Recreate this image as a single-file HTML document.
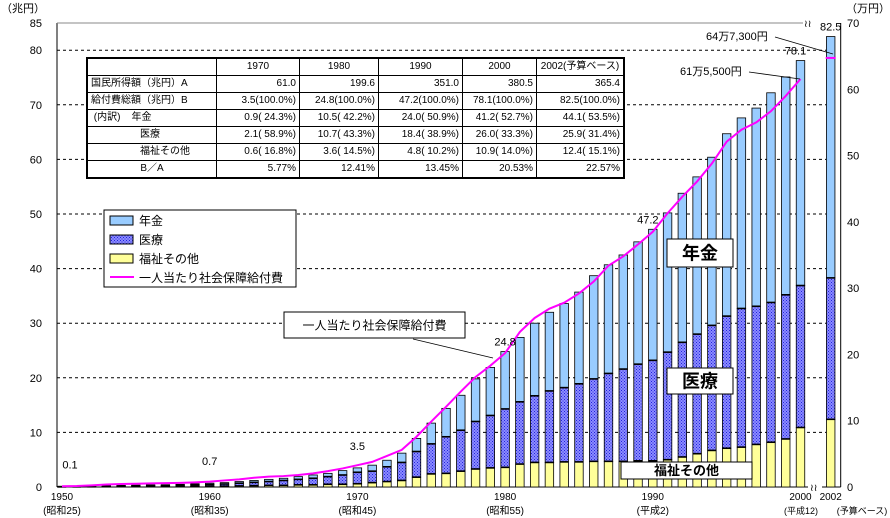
<!DOCTYPE html>
<html><head><meta charset="utf-8">
<style>
body{margin:0;background:#fff;width:890px;height:518px;overflow:hidden;font-family:"Liberation Sans","Noto Sans CJK JP",sans-serif}
svg{position:absolute;left:0;top:0}
#tbl{position:absolute;left:86px;top:57px;border-collapse:collapse;border:2px solid #000;font-family:"Liberation Sans","Noto Sans CJK JP",sans-serif;font-size:10px;background:#fff}
#tbl td{border:1px solid #000;height:16px;padding:0 3px;white-space:nowrap;line-height:16px}
#tbl td.n{text-align:right}
#tbl td.h{text-align:center}
</style></head><body>
<svg id="chart" width="890" height="518"></svg>
<table id="tbl">
<tr><td style="width:122px"></td><td class="h" style="width:76px">1970</td><td class="h" style="width:72px">1980</td><td class="h" style="width:77px">1990</td><td class="h" style="width:67px">2000</td><td class="h" style="width:80px">2002(予算ベース)</td></tr>
<tr><td>国民所得額（兆円）A</td><td class="n">61.0</td><td class="n">199.6</td><td class="n">351.0</td><td class="n">380.5</td><td class="n">365.4</td></tr>
<tr><td>給付費総額（兆円）B</td><td class="n">3.5(100.0%)</td><td class="n">24.8(100.0%)</td><td class="n">47.2(100.0%)</td><td class="n">78.1(100.0%)</td><td class="n">82.5(100.0%)</td></tr>
<tr><td>&nbsp;(内訳)&nbsp;&nbsp;&nbsp;&nbsp;年金</td><td class="n">0.9( 24.3%)</td><td class="n">10.5( 42.2%)</td><td class="n">24.0( 50.9%)</td><td class="n">41.2( 52.7%)</td><td class="n">44.1( 53.5%)</td></tr>
<tr><td style="padding-left:52px">医療</td><td class="n">2.1( 58.9%)</td><td class="n">10.7( 43.3%)</td><td class="n">18.4( 38.9%)</td><td class="n">26.0( 33.3%)</td><td class="n">25.9( 31.4%)</td></tr>
<tr><td style="padding-left:52px">福祉その他</td><td class="n">0.6( 16.8%)</td><td class="n">3.6( 14.5%)</td><td class="n">4.8( 10.2%)</td><td class="n">10.9( 14.0%)</td><td class="n">12.4( 15.1%)</td></tr>
<tr><td class="h">B／A</td><td class="n">5.77%</td><td class="n">12.41%</td><td class="n">13.45%</td><td class="n">20.53%</td><td class="n">22.57%</td></tr>
</table>
<script>
const years=[1950,1951,1952,1953,1954,1955,1956,1957,1958,1959,1960,1961,1962,1963,1964,1965,1966,1967,1968,1969,1970,1971,1972,1973,1974,1975,1976,1977,1978,1979,1980,1981,1982,1983,1984,1985,1986,1987,1988,1989,1990,1991,1992,1993,1994,1995,1996,1997,1998,1999,2000,2002];
const totalVals=[0.1,0.15,0.2,0.25,0.3,0.35,0.4,0.42,0.5,0.6,0.7,0.8,1.0,1.2,1.4,1.6,1.9,2.2,2.5,3.0,3.5,4.0,4.9,6.2,8.9,11.7,14.4,16.8,19.8,21.9,24.8,27.4,30.0,32.0,33.6,35.7,38.7,40.7,42.5,44.9,47.2,50.2,53.8,56.8,60.4,64.7,67.6,69.4,72.2,75.1,78.1,82.5];
const medTopVals=[0.07,0.1,0.13,0.16,0.2,0.23,0.27,0.28,0.33,0.4,0.45,0.55,0.7,0.85,1.0,1.2,1.4,1.6,1.9,2.2,2.7,2.9,3.7,4.5,6.5,7.9,9.2,10.4,12.0,13.1,14.3,15.6,16.7,17.6,18.2,18.9,19.8,20.8,21.6,22.5,23.2,24.7,26.5,28.0,29.6,31.3,32.7,33.1,33.8,35.2,36.9,38.3];
const welfareVals=[0.02,0.03,0.04,0.05,0.06,0.07,0.08,0.08,0.1,0.12,0.14,0.16,0.2,0.24,0.3,0.3,0.4,0.4,0.5,0.5,0.6,0.8,1.0,1.2,1.8,2.4,2.5,2.9,3.3,3.5,3.6,4.2,4.5,4.5,4.6,4.6,4.7,4.7,4.7,4.8,4.8,5.0,5.5,6.1,6.7,7.1,7.3,7.8,8.2,8.8,10.9,12.4];
const perCapitaYears=[1950,1951,1952,1953,1954,1955,1956,1957,1958,1959,1960,1961,1962,1963,1964,1965,1966,1967,1968,1969,1970,1971,1972,1973,1974,1975,1976,1977,1978,1979,1980,1981,1982,1983,1984,1985,1986,1987,1988,1989,1990,1991,1992,1993,1994,1995,1996,1997,1998,1999,2000];
const perCapitaVals=[0.12,0.16,0.25,0.37,0.45,0.49,0.54,0.58,0.62,0.7,0.82,0.99,1.15,1.4,1.56,1.65,1.81,2.06,2.39,2.8,3.29,3.79,4.69,5.6,7.58,9.88,12.1,14.4,16.6,18.3,20.2,23.4,25.5,26.9,27.8,29.2,31.0,33.4,34.8,36.6,38.5,41.3,43.8,46.1,48.8,52.1,53.9,55.0,56.7,59.0,61.55];
const perCapita2002=64.73;
const leftTicks=[0,10,20,30,40,50,60,70,80,85];
const rightTicks=[0,10,20,30,40,50,60,70];
const xTickYears=[1950,1960,1970,1980,1990,2000,2002];
const xTickSubs=["(昭和25)","(昭和35)","(昭和45)","(昭和55)","(平成2)","(平成12)","(予算ベース)"];
const valueLabelYears=[1950,1960,1970,1980,1990,2000,2002];
const valueLabels=["0.1","0.7","3.5","24.8","47.2","78.1","82.5"];

const NS="http://www.w3.org/2000/svg";
const svg=document.getElementById('chart');
const X0=57,XR=840.7,Y0=487,PXU=54.6/10;
function xs(yr){return yr===2002?830.7:62+(yr-1950)*14.77;}
function yl(v){return Y0-v*PXU;}
function yr_(v){return Y0-v*(464/70);}
function el(tag,attrs,parent){const e=document.createElementNS(NS,tag);for(const k in attrs)e.setAttribute(k,attrs[k]);(parent||svg).appendChild(e);return e;}
function txt(x,y,s,attrs){const t=el('text',Object.assign({x:x,y:y,'font-size':11,fill:'#000'},attrs||{}));t.textContent=s;return t;}

const defs=el('defs',{});
const pat=el('pattern',{id:'dots',width:3,height:3,patternUnits:'userSpaceOnUse'},defs);
el('rect',{width:3,height:3,fill:'#8c8cff'},pat);
el('rect',{x:0,y:0,width:1,height:1,fill:'#2222dd'},pat);
el('rect',{x:1.5,y:1.5,width:1,height:1,fill:'#2222dd'},pat);

for(const t of leftTicks){ if(t===0||t===85)continue;
  const g=el('line',{x1:X0,x2:835,y1:yl(t),y2:yl(t),stroke:'#000','stroke-dasharray':'3,3','stroke-width':1});
  
  
}
const lax=el('line',{x1:X0,x2:X0,y1:23,y2:Y0,stroke:'#000'});

el('line',{x1:X0,x2:803,y1:23,y2:23,stroke:'#888'});
el('line',{x1:X0,x2:808,y1:Y0,y2:Y0,stroke:'#000'});
el('line',{x1:822,x2:XR,y1:Y0,y2:Y0,stroke:'#000'});
const rax=el('line',{x1:XR,x2:XR,y1:23,y2:Y0,stroke:'#000'});

txt(804,27,'≀≀',{'font-size':10});
txt(810,491,'≀≀',{'font-size':10});

for(const t of leftTicks){const l=txt(42,yl(t)+4,String(t),{'text-anchor':'end','font-size':11});
  }
for(const t of rightTicks){const l=txt(847,yr_(t)+4,String(t),{'font-size':11});
  }
const lt=txt(1,12,'（兆円）',{'font-size':11});
const rt=txt(846,12,'（万円）',{'font-size':11});
xTickYears.forEach((yv,i)=>{
  const a=txt(xs(yv),500,String(yv),{'text-anchor':'middle','font-size':10});
  
  const sx=yv===2002?862:(yv===2000?801:xs(yv));
  const b=txt(sx,514,xTickSubs[i],{'text-anchor':'middle','font-size':yv>=2000?9:10});
  
});

const BW=8.5;
years.forEach((yv,i)=>{
  const cx=xs(yv),x=cx-BW/2;
  const w=welfareVals[i],m=medTopVals[i],t=totalVals[i];
  const p=el('rect',{x:x,y:yl(t),width:BW,height:yl(m)-yl(t),fill:'#99ccff',stroke:'#000','stroke-width':0.8});
  
  const md=el('rect',{x:x,y:yl(m),width:BW,height:yl(w)-yl(m),fill:'url(#dots)',stroke:'#000','stroke-width':0.8});
  
  const wf=el('rect',{x:x,y:yl(w),width:BW,height:Y0-yl(w),fill:'#ffff99',stroke:'#000','stroke-width':0.8});
  
  el('line',{x1:x,x2:x+BW,y1:yl(m),y2:yl(m),stroke:'#000','stroke-width':1.6});
  el('line',{x1:x,x2:x+BW,y1:yl(w),y2:yl(w),stroke:'#000','stroke-width':1.6});
});

const pts=perCapitaYears.map((yv,i)=>xs(yv)+','+yr_(perCapitaVals[i])).join(' ');
const pl=el('polyline',{points:pts,fill:'none',stroke:'#ff00ff','stroke-width':2});

const p2=el('line',{x1:xs(2002)-5,x2:xs(2002)+5,y1:yr_(perCapita2002),y2:yr_(perCapita2002),stroke:'#ff00ff','stroke-width':2});


valueLabelYears.forEach((yv,i)=>{
  const idx=years.indexOf(yv);
  const v=totalVals[idx];
  const l=txt(yv===1950?70:xs(yv)-(yv===1990||yv===2000?5:0),yl(v)-(yv<1975?18:6),valueLabels[i],{'text-anchor':'middle','font-size':11});
  
});

const a1=txt(680,75,'61万5,500円',{'font-size':11});
el('line',{x1:749,y1:72,x2:800,y2:79,stroke:'#000','stroke-width':0.8});
const a2=txt(706,40,'64万7,300円',{'font-size':11});
el('line',{x1:775,y1:37,x2:833,y2:54,stroke:'#000','stroke-width':0.8});

function box(x,y,w,h,s,fs,bold,name){
  const g=el('g',{});
  el('rect',{x:x,y:y,width:w,height:h,fill:'#fff',stroke:'#000','stroke-width':1},g);
  const t=el('text',{x:x+w/2,y:y+h/2+fs*0.36,'text-anchor':'middle','font-size':fs,'font-weight':bold?'bold':'normal'},g);t.textContent=s;
}
box(667,239,66,28,'年金',18,true,'pension-callout');
box(667,368,66,26,'医療',18,true,'medical-callout');
box(621,462,131,17,'福祉その他',13,true,'welfare-callout');
box(284,312,181,26,'一人当たり社会保障給付費',12,false,'per-capita-callout');
el('line',{x1:413,y1:339,x2:493,y2:358,stroke:'#000','stroke-width':0.8});

const lg=el('g',{});
el('rect',{x:104,y:210,width:192,height:77,fill:'#fff',stroke:'#000'},lg);
const items=[['年金','#99ccff'],['医療','url(#dots)'],['福祉その他','#ffff99']];
items.forEach((it,i)=>{
  const y=216+i*19;
  const g=el('g',{},lg);
  el('rect',{x:110,y:y,width:23,height:9,fill:it[1],stroke:'#000'},g);
  const t=el('text',{x:139,y:y+9,'font-size':12},g);t.textContent=it[0];
});
const g4=el('g',{},lg);
el('line',{x1:110,x2:134,y1:277,y2:277,stroke:'#ff00ff','stroke-width':2},g4);
const t4=el('text',{x:139,y:282,'font-size':12},g4);t4.textContent='一人当たり社会保障給付費';
</script>
</body></html>
